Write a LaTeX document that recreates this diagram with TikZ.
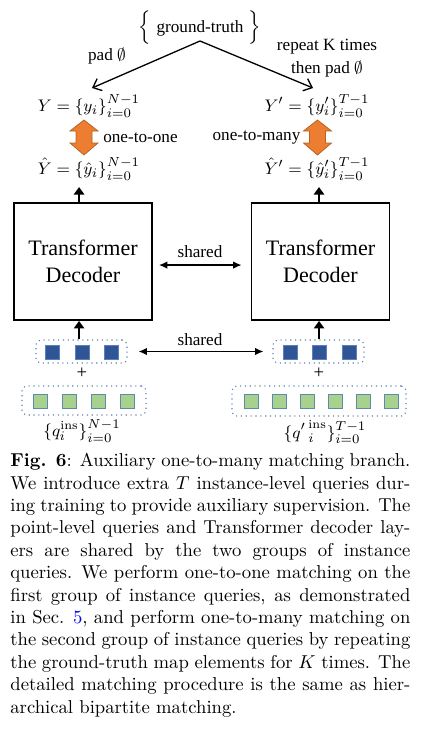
\documentclass[tikz,border=0pt]{standalone}
\usepackage{fontspec}
\newfontfamily\tnr{Liberation Serif}
\usetikzlibrary{arrows.meta}
\definecolor{orng}{HTML}{ED7D31}
\definecolor{orngd}{HTML}{B4621F}
\definecolor{qblue}{HTML}{2F5597}
\definecolor{qbluebd}{HTML}{5A82B8}
\definecolor{qgreen}{HTML}{A9D18E}
\definecolor{qgreenbd}{HTML}{5E8AAE}
\definecolor{dotbd}{HTML}{5B80AE}
\tikzset{
  lbl/.style={font=\tnr\fontsize{9.2}{11}\selectfont, inner sep=0pt},
  eq/.style={font=\fontsize{9.5}{11}\selectfont, inner sep=0pt},
  decbox/.style={draw, line width=1pt, minimum width=73.9pt, minimum height=62.7pt,
     align=center, font=\tnr\fontsize{11.8}{14.5}\selectfont},
  dotbox/.style={draw=dotbd, dotted, line width=0.6pt, rounded corners=2.5pt, inner sep=0pt},
  bsq/.style={draw=qbluebd, fill=qblue, line width=0.4pt, minimum size=7.5pt, inner sep=0pt},
  gsq/.style={draw=qgreenbd, fill=qgreen, line width=0.4pt, minimum size=7.5pt, inner sep=0pt},
  thin arrow/.style={line width=0.7pt, -{Straight Barb[length=4pt,width=7pt]}},
  uparrow/.style={line width=1.4pt, -{Triangle[length=4pt,width=5.5pt]}},
  dbl/.style={line width=0.8pt, {Latex[length=4.5pt,width=4pt]}-{Latex[length=4.5pt,width=4pt]}},
  orarrow/.style={fill=orng, draw=orngd, line width=0.4pt, line join=miter},
  capline/.style={anchor=base west, inner sep=0pt, font=\fontsize{10}{12}\selectfont},
}
\begin{document}
\begin{tikzpicture}[x=0.5357pt, y=-0.5357pt]
\useasboundingbox (0,0) rectangle (427,742);

% ground truth
\node[inner sep=0pt, font=\fontsize{10}{12}\selectfont] (gt) at (200,28)
  {$\Big\{\;\mbox{\tnr\fontsize{9.2}{11}\selectfont ground-truth}\;\Big\}$};
\coordinate (gtp) at (200,41);
\coordinate (la) at (92,88);
\coordinate (ra) at (313,88);
\draw[thin arrow] (gtp) -- (la);
\draw[thin arrow] (gtp) -- (ra);
\node[lbl] (pad) at (107,56) {pad $\emptyset$};
\node[lbl, align=center] (rep) at (327,58) {repeat K times\\[1pt] then pad $\emptyset$};

% targets
\node[eq] (Y) at (89,106) {$Y=\{y_i\}_{i=0}^{N-1}$};
\node[eq] (Yp) at (317,106) {$Y'=\{y'_i\}_{i=0}^{T-1}$};
\node[eq] (Yh) at (89,169) {$\hat{Y}=\{\hat{y}_i\}_{i=0}^{N-1}$};
\node[eq] (Yhp) at (317,169) {$\hat{Y}'=\{\hat{y}'_i\}_{i=0}^{T-1}$};

% orange double arrows
\draw[orarrow] (84,120) -- (98,131) -- (92,131) -- (92,143) -- (98,143) -- (84,155)
  -- (70,143) -- (76,143) -- (76,131) -- (70,131) -- cycle;
\draw[orarrow] (317.5,120) -- (331.5,131) -- (325.5,131) -- (325.5,143) -- (331.5,143) -- (317.5,155)
  -- (303.5,143) -- (309.5,143) -- (309.5,131) -- (303.5,131) -- cycle;
\node[lbl] (o2o) at (140.5,138) {one-to-one};
\node[lbl] (o2m) at (256.5,138) {one-to-many};

% decoders
\node[decbox] (lbox) at (83,261.5) {Transformer\\Decoder};
\node[decbox] (rbox) at (320.5,261.5) {Transformer\\Decoder};
\draw[uparrow] ([xshift=-2.1pt]lbox.north) -- ++(0,-15);
\draw[uparrow] ([xshift=-0.8pt]rbox.north) -- ++(0,-15);
\draw[dbl] ([xshift=3.2pt,yshift=-1.9pt]lbox.east) -- ([xshift=-4.8pt,yshift=-1.9pt]rbox.west);
\node[lbl] (sh1) at (200,252) {shared};

% point-level queries
\node[dotbox, minimum width=48.7pt, minimum height=12.3pt] (lblue) at (81.5,351.5) {};
\node[dotbox, minimum width=48.7pt, minimum height=12.3pt] (rblue) at (318.5,351.5) {};
\foreach \x [count=\i] in {52,82,111} \node[bsq] (lb\i) at (\x,352) {};
\foreach \x [count=\i] in {290,319,349} \node[bsq] (rb\i) at (\x,352) {};
\draw[uparrow] ([xshift=-1.3pt]lblue.north) -- ([xshift=-1.3pt]lblue.north |- lbox.south);
\draw[uparrow] ([xshift=0.3pt]rblue.north) -- ([xshift=0.3pt]rblue.north |- rbox.south);
\draw[dbl] ([xshift=5.9pt]lblue.east) -- ([xshift=-4.8pt]rblue.west);
\node[lbl] (sh2) at (200,340) {shared};

\node[font=\tnr\fontsize{10}{12}\selectfont, inner sep=0pt] (lplus) at (82,373) {+};
\node[font=\tnr\fontsize{10}{12}\selectfont, inner sep=0pt] (rplus) at (319,373) {+};

% instance queries
\node[dotbox, minimum width=66.4pt, minimum height=15.5pt] (lgreen) at (84,400.5) {};
\node[dotbox, minimum width=93.2pt, minimum height=16.1pt] (rgreen) at (319,401) {};
\foreach \x [count=\i] in {40,69,98,127} \node[gsq] (lg\i) at (\x,401) {};
\foreach \x [count=\i] in {251,279,307,335,363,391} \node[gsq] (rg\i) at (\x,401) {};

\node[eq] (ql) at (82,431) {$\{q_i^{\mathrm{ins}}\}_{i=0}^{N-1}$};
\node[eq] (qr) at (325,432) {$\{{q'}^{\,\mathrm{ins}}_{\,i}\}_{i=0}^{T-1}$};

% caption
\foreach \t [count=\k from 0] in {
  {\makebox[214.3pt][s]{\textbf{Fig. 6}: Auxiliary one-to-many matching branch.}},
  {\makebox[214.3pt][s]{We introduce extra $T$ instance-level queries dur-}},
  {\makebox[214.3pt][s]{ing training to provide auxiliary supervision. The}},
  {\makebox[214.3pt][s]{point-level queries and Transformer decoder lay-}},
  {\makebox[214.3pt][s]{ers are shared by the two groups of instance}},
  {\makebox[214.3pt][s]{queries. We perform one-to-one matching on the}},
  {\makebox[214.3pt][s]{first group of instance queries, as demonstrated}},
  {\makebox[214.3pt][s]{in Sec. {\color{blue}5}, and perform one-to-many matching on}},
  {\makebox[214.3pt][s]{the second group of instance queries by repeating}},
  {\makebox[214.3pt][s]{the ground-truth map elements for $K$ times. The}},
  {\makebox[214.3pt][s]{detailed matching procedure is the same as hier-}},
  {archical bipartite matching.}}
  \node[capline] (cap\k) at (10,{466.7+22.4*\k}) {\t};
\end{tikzpicture}
\end{document}
